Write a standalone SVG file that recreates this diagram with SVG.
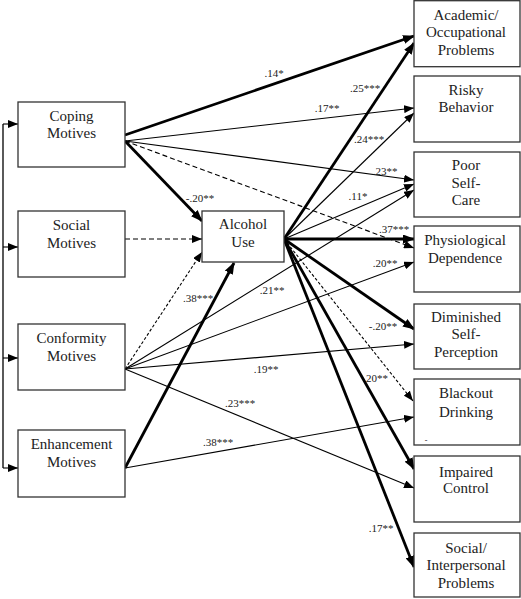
<svg xmlns="http://www.w3.org/2000/svg" width="521" height="599" viewBox="0 0 521 599">
<style>
.box{fill:#fff;stroke:#333;stroke-width:1.3}
.bt{font-family:"Liberation Serif","Times New Roman",serif;font-size:15px;fill:#222;text-anchor:middle}
.lb{font-family:"Liberation Serif","Times New Roman",serif;font-size:11px;fill:#222;text-anchor:middle}
.thin{stroke:#000;stroke-width:1.1;fill:none;marker-end:url(#ah)}
.thick{stroke:#000;stroke-width:2.8;fill:none;marker-end:url(#ahb)}
.dash{stroke:#000;stroke-width:1.1;fill:none;stroke-dasharray:5,3;marker-end:url(#ah)}
.dot{stroke:#000;stroke-width:1.1;fill:none;stroke-dasharray:3,2;marker-end:url(#ah)}
</style>
<defs>
<marker id="ah" markerUnits="userSpaceOnUse" markerWidth="10" markerHeight="8" refX="10" refY="4" orient="auto"><path d="M0,0 L10,4 L0,8 z" fill="#000"/></marker>
<marker id="ahb" markerUnits="userSpaceOnUse" markerWidth="12" markerHeight="9" refX="11" refY="4.5" orient="auto"><path d="M0,0 L12,4.5 L0,9 z" fill="#000"/></marker>
</defs>
<rect width="521" height="599" fill="#fff"/>

<g id="connectors">
<path d="M3,124 V468" stroke="#000" stroke-width="1.3" fill="none"/>
<path class="thin" d="M3,124 H18"/>
<path class="thin" d="M3,247 H18"/>
<path class="thin" d="M3,358 H18"/>
<path class="thin" d="M3,468 H18"/>
<path class="thick" d="M125,135 L414,36"/>
<path class="thin" d="M125,141 L414,108"/>
<path class="thin" d="M125,141 L414,180"/>
<path class="dash" d="M125,141 L414,248"/>
<path class="thick" d="M125,141 L202,221"/>
<path class="dash" d="M125,239 L202,239"/>
<path class="dot" d="M125,369 L202,252"/>
<path class="thin" d="M125,369 L414,190"/>
<path class="thin" d="M125,369 L414,262"/>
<path class="thin" d="M125,369 L414,344"/>
<path class="thin" d="M125,369 L414,488"/>
<path class="thick" d="M125,468 L234,263"/>
<path class="thin" d="M125,468 L414,417"/>
<path class="thick" d="M284,239 L414,43"/>
<path class="thin" d="M284,239 L414,113"/>
<path class="thin" d="M284,239 L414,184"/>
<path class="thick" d="M284,239 L414,239"/>
<path class="thick" d="M284,239 L414,329"/>
<path class="dot" d="M284,239 L413,401"/>
<path class="thick" d="M284,239 L414,469"/>
<path class="thick" d="M284,239 L414,567"/>
</g>

<g id="labels">
<text class="lb" x="274" y="77">.14*</text>
<text class="lb" x="365" y="92">.25***</text>
<text class="lb" x="327" y="112">.17**</text>
<text class="lb" x="369" y="143">.24***</text>
<text class="lb" x="385" y="175">.23**</text>
<text class="lb" x="200" y="202">-.20**</text>
<text class="lb" x="358" y="200">.11*</text>
<text class="lb" x="394" y="233">.37***</text>
<text class="lb" x="385" y="267">.20**</text>
<text class="lb" x="198" y="302">.38***</text>
<text class="lb" x="272" y="294">.21**</text>
<text class="lb" x="383" y="330">-.20**</text>
<text class="lb" x="266" y="373">.19**</text>
<text class="lb" x="377" y="382">20**</text>
<text class="lb" x="240" y="407">.23***</text>
<text class="lb" x="218" y="446">.38***</text>
<text class="lb" x="381" y="532">.17**</text>
</g>

<g id="coping"><rect class="box" x="18" y="102" width="107" height="65"/><text class="bt" x="71.5" y="121">Coping</text><text class="bt" x="71.5" y="138">Motives</text></g>
<g id="social"><rect class="box" x="18" y="211" width="107" height="66"/><text class="bt" x="71.5" y="230">Social</text><text class="bt" x="71.5" y="248">Motives</text></g>
<g id="conformity"><rect class="box" x="18" y="324" width="107" height="66"/><text class="bt" x="71.5" y="343">Conformity</text><text class="bt" x="71.5" y="361">Motives</text></g>
<g id="enhancement"><rect class="box" x="18" y="430" width="107" height="67"/><text class="bt" x="71.5" y="449">Enhancement</text><text class="bt" x="71.5" y="467">Motives</text></g>
<g id="alcohol"><rect class="box" x="202" y="211" width="82" height="51"/><text class="bt" x="243" y="229">Alcohol</text><text class="bt" x="243" y="247">Use</text></g>

<g id="academic"><rect class="box" x="414" y="0.7" width="106" height="66"/><text class="bt" x="466" y="20">Academic/</text><text class="bt" x="466" y="37">Occupational</text><text class="bt" x="466" y="55">Problems</text></g>
<g id="risky"><rect class="box" x="414" y="76" width="106" height="66"/><text class="bt" x="466" y="95">Risky</text><text class="bt" x="466" y="112">Behavior</text></g>
<g id="poorselfcare"><rect class="box" x="414" y="152" width="106" height="65"/><text class="bt" x="466" y="170">Poor</text><text class="bt" x="466" y="188">Self-</text><text class="bt" x="466" y="205">Care</text></g>
<g id="physiological"><rect class="box" x="414" y="226" width="106" height="66"/><text class="bt" x="465" y="245">Physiological</text><text class="bt" x="465" y="263">Dependence</text></g>
<g id="diminished"><rect class="box" x="414" y="304" width="106" height="65"/><text class="bt" x="466" y="322">Diminished</text><text class="bt" x="466" y="339">Self-</text><text class="bt" x="466" y="357">Perception</text></g>
<g id="blackout"><rect class="box" x="414" y="379" width="106" height="66"/><text class="bt" x="466" y="398">Blackout</text><text class="bt" x="466" y="417">Drinking</text><text class="lb" x="426" y="443" style="font-size:8px">-</text></g>
<g id="impaired"><rect class="box" x="414" y="456" width="106" height="66"/><text class="bt" x="466" y="477">Impaired</text><text class="bt" x="466" y="493">Control</text></g>
<g id="socialprob"><rect class="box" x="414" y="533" width="106" height="64"/><text class="bt" x="466" y="553">Social/</text><text class="bt" x="466" y="570">Interpersonal</text><text class="bt" x="466" y="588">Problems</text></g>
</svg>
